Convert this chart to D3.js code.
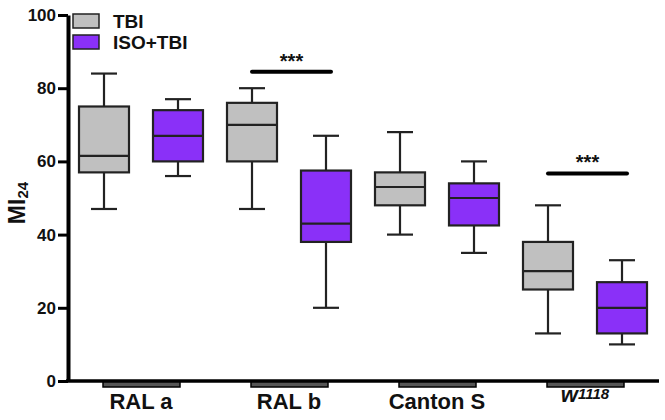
<!DOCTYPE html>
<html>
<head>
<meta charset="utf-8">
<script src="https://cdn.jsdelivr.net/npm/d3@7"></script>
<style>
  body { margin: 0; background: #fff; }
  svg { display: block; font-family: Arial, "Liberation Sans", sans-serif; }
</style>
</head>
<body>
<div id="field"></div>
<script>
'use strict';

// data
let groups = ['RAL a', 'RAL b', 'Canton S', 'w1118'],
    series = ['TBI', 'ISO+TBI'],
    // [min, q1, median, q3, max]
    tbiStats = [[47, 57, 61.5, 75, 84], [47, 60, 70, 76, 80], [40, 48, 53, 57, 68], [13, 25, 30, 38, 48]],
    isoStats = [[56, 60, 67, 74, 77], [20, 38, 43, 57.5, 67], [35, 42.5, 50, 54, 60], [10, 13, 20, 27, 33]],
    yTicks = [0, 20, 40, 60, 80, 100],
    sigGroups = ['RAL b', 'w1118'],
    sigLevels = [84.5, 56.7],
    sigLabels = ['***', '***'];

let w = 665, h = 420,
    colors = ['#c0c0c0', '#8a30f8'],
    svg = d3.select('#field').append('svg').attr('width', w).attr('height', h);

let x = d3.scaleBand().domain(groups).range([67, 659]),
    xs = d3.scaleBand().domain(series).range([0, x.bandwidth()]),
    y = d3.scaleLinear().domain([0, 100]).range([381, 15]);

let boxW = 50, capW = 26;

// flatten for drawing
let boxes = [];
groups.forEach(function(g, i) {
  boxes.push({ g: g, s: series[0], v: tbiStats[i] });
  boxes.push({ g: g, s: series[1], v: isoStats[i] });
});
function cx(d) { return x(d.g) + xs(d.s) + xs.bandwidth() / 2; }

let bx = svg.append('g').selectAll('g').data(boxes).enter().append('g');

// whiskers
bx.append('line')
  .attr('x1', cx).attr('x2', cx)
  .attr('y1', function(d) { return y(d.v[0]); })
  .attr('y2', function(d) { return y(d.v[4]); })
  .attr('stroke', '#222').attr('stroke-width', 2.2);
[0, 4].forEach(function(k) {
  bx.append('line')
    .attr('x1', function(d) { return cx(d) - capW / 2; })
    .attr('x2', function(d) { return cx(d) + capW / 2; })
    .attr('y1', function(d) { return y(d.v[k]); })
    .attr('y2', function(d) { return y(d.v[k]); })
    .attr('stroke', '#222').attr('stroke-width', 2.2);
});
// box
bx.append('rect')
  .attr('x', function(d) { return cx(d) - boxW / 2; })
  .attr('y', function(d) { return y(d.v[3]); })
  .attr('width', boxW)
  .attr('height', function(d) { return y(d.v[1]) - y(d.v[3]); })
  .attr('fill', function(d) { return colors[series.indexOf(d.s)]; })
  .attr('stroke', '#222').attr('stroke-width', 2.2);
// median
bx.append('line')
  .attr('x1', function(d) { return cx(d) - boxW / 2; })
  .attr('x2', function(d) { return cx(d) + boxW / 2; })
  .attr('y1', function(d) { return y(d.v[2]); })
  .attr('y2', function(d) { return y(d.v[2]); })
  .attr('stroke', '#222').attr('stroke-width', 2.2);

// y axis
let yAxis = svg.append('g')
  .attr('transform', 'translate(68,0)')
  .call(d3.axisLeft(y).tickValues(yTicks).tickSize(10).tickPadding(2).tickSizeOuter(0));
yAxis.select('.domain').attr('stroke', '#000').attr('stroke-width', 4);
yAxis.selectAll('.tick line').attr('stroke', '#000').attr('stroke-width', 3);
yAxis.selectAll('.tick text')
  .attr('font-size', '17px').attr('font-weight', 'bold').attr('fill', '#111')
  .attr('font-family', 'Arial, "Liberation Sans", sans-serif');

// x axis line
svg.append('line')
  .attr('x1', 66).attr('x2', 659)
  .attr('y1', y(0)).attr('y2', y(0))
  .attr('stroke', '#000').attr('stroke-width', 3.5);

// group brackets under the axis
svg.append('g').selectAll('rect').data(groups).enter().append('rect')
  .attr('x', function(d) { return x(d) + x.bandwidth() / 2 - 38; })
  .attr('y', y(0) + 1)
  .attr('width', 77)
  .attr('height', 5)
  .attr('fill', '#555')
  .attr('stroke', '#000').attr('stroke-width', 1.5);

// group labels
let gl = svg.append('g').selectAll('text').data(groups).enter().append('text')
  .attr('x', function(d) { return x(d) + x.bandwidth() / 2; })
  .attr('y', function(d) { return d === 'w1118' ? 402 : 409; })
  .attr('text-anchor', 'middle')
  .attr('font-size', '22px').attr('font-weight', 'bold').attr('fill', '#111');
gl.each(function(d) {
  let t = d3.select(this);
  if (d === 'w1118') {
    t.append('tspan').text('w').attr('font-style', 'italic');
    t.append('tspan').text('1118').attr('font-style', 'italic')
      .attr('font-size', '15px').attr('dy', -3);
  } else {
    t.text(d);
  }
});

// y label
let yl = svg.append('text')
  .attr('transform', 'translate(25,203) rotate(-90)')
  .attr('text-anchor', 'middle')
  .attr('font-size', '23px').attr('font-weight', 'bold').attr('fill', '#111');
yl.append('tspan').text('MI');
yl.append('tspan').text('24').attr('font-size', '15px').attr('dy', 3);

// significance bars
sigGroups.forEach(function(g, i) {
  let x1 = x(g) + xs(series[0]) + xs.bandwidth() / 2,
      x2 = x(g) + xs(series[1]) + xs.bandwidth() / 2 + 5;
  svg.append('line')
    .attr('x1', x1).attr('x2', x2)
    .attr('y1', y(sigLevels[i])).attr('y2', y(sigLevels[i]))
    .attr('stroke', '#000').attr('stroke-width', 4).attr('stroke-linecap', 'round');
  svg.append('text')
    .attr('x', (x1 + x2) / 2)
    .attr('y', y(sigLevels[i]) - 4)
    .attr('text-anchor', 'middle')
    .attr('font-size', '20px').attr('font-weight', 'bold').attr('fill', '#111')
    .text(sigLabels[i]);
});

// legend
let lg = svg.append('g').selectAll('g').data(series).enter().append('g')
  .attr('transform', function(d, i) { return 'translate(73,' + (14 + i * 21) + ')'; });
lg.append('rect')
  .attr('width', 26).attr('height', 14)
  .attr('fill', function(d, i) { return colors[i]; })
  .attr('stroke', '#222').attr('stroke-width', 1.5);
lg.append('text')
  .attr('x', 40).attr('y', 14)
  .attr('font-size', '19px').attr('font-weight', 'bold').attr('fill', '#111')
  .text(function(d) { return d; });
</script>
</body>
</html>
